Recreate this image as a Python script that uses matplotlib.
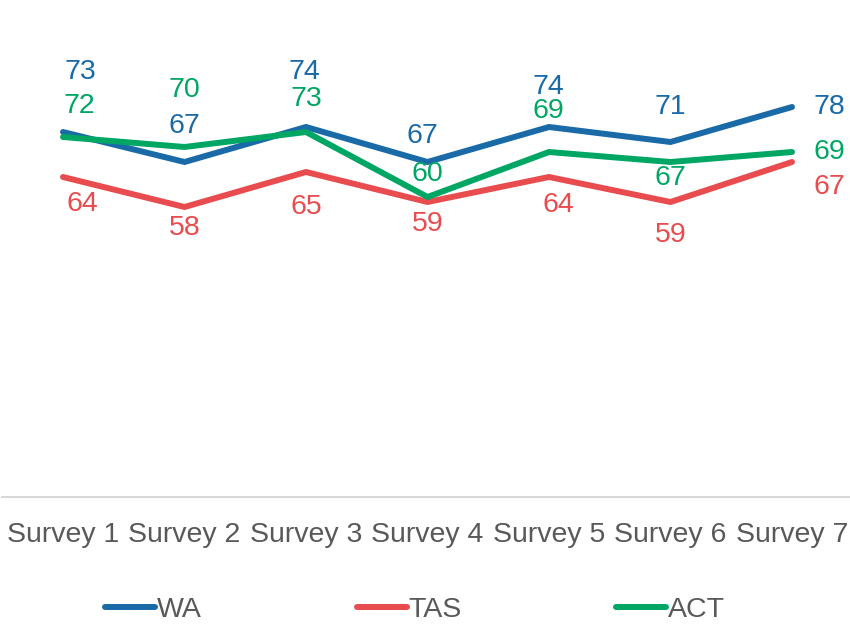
import matplotlib
matplotlib.use("Agg")
import matplotlib.pyplot as plt

# ---------------------------------------------------------------------------
# Data
# ---------------------------------------------------------------------------
surveys = ["Survey 1", "Survey 2", "Survey 3", "Survey 4",
           "Survey 5", "Survey 6", "Survey 7"]
wa = [73, 67, 74, 67, 74, 71, 78]
tas = [64, 58, 65, 59, 64, 59, 67]
act = [72, 70, 73, 60, 69, 67, 69]

# label offsets in pixels (dx, dy), dy positive = up
wa_off = [(17, 60), (0, 36), (-2, 55), (-5, 26), (-1, 40), (0, 35), (37, 0)]
tas_off = [(19, -27), (0, -21), (0, -35), (0, -22), (9, -28), (0, -33), (37, -25)]
act_off = [(16, 31), (0, 57), (0, 33), (0, 23), (-1, 41), (0, -16), (37, 0)]

C_WA = "#1A6AA8"
C_TAS = "#E84C4E"
C_ACT = "#00A664"
GREY = "#595959"

plt.rcParams["font.family"] = ["Liberation Sans", "DejaVu Sans"]

fig = plt.figure(figsize=(8.5, 6.24), dpi=100)
ax = fig.add_axes([2.25 / 850, 127 / 624, 850.5 / 850, 500 / 624])

x = list(range(len(surveys)))
series = [("WA", wa, C_WA, wa_off), ("TAS", tas, C_TAS, tas_off),
          ("ACT", act, C_ACT, act_off)]

for name, vals, col, offs in series:
    ax.plot(x, vals, color=col, linewidth=4.3, solid_capstyle="round",
            solid_joinstyle="miter", label=name, clip_on=False)
    for xi, v, (dx, dy) in zip(x, vals, offs):
        ax.annotate(str(v), (xi, v), xytext=(dx, dy),
                    textcoords="offset pixels", ha="center", va="center",
                    fontsize=20.5, color=col, annotation_clip=False)

ax.set_xlim(-0.5, len(surveys) - 0.5)
ax.set_ylim(0, 100)
ax.set_xticks(x)
ax.set_xticklabels(surveys, fontsize=20.5, color=GREY)
ax.tick_params(axis="x", length=0, pad=18)
ax.set_yticks([])
for side in ["top", "right", "left"]:
    ax.spines[side].set_visible(False)
ax.spines["bottom"].set_color("#D9D9D9")
ax.spines["bottom"].set_linewidth(1.5)

leg = fig.legend(loc="center", bbox_to_anchor=(415 / 850, 1 - 610 / 624),
                 ncol=3, frameon=False, fontsize=20.5, handlelength=1.75,
                 handletextpad=0.05, columnspacing=5.45)
for t in leg.get_texts():
    t.set_color(GREY)
for h in leg.get_lines():
    h.set_linewidth(4.3)
    h.set_solid_capstyle("round")

fig.savefig("out.png", dpi=100)
